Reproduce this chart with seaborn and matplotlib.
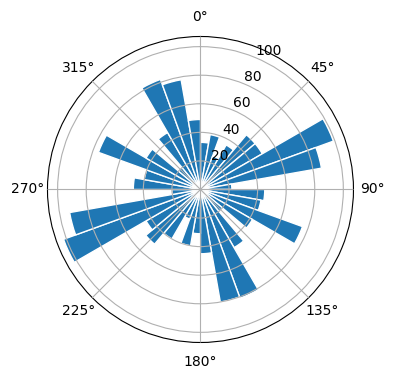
import numpy as np
import matplotlib
matplotlib.use("Agg")
import matplotlib.pyplot as plt
import seaborn as sns

# Direction bins (degrees, left edge of each 10-degree sector)
bin_start_deg = [0, 10, 20, 30, 40, 50, 60, 70, 80, 90, 100, 110,
                 120, 130, 140, 150, 160, 170, 180, 190, 200, 210, 220, 230,
                 240, 250, 260, 270, 280, 290, 300, 310, 320, 330, 340, 350]
bin_width_deg = 10
counts = [33, 39, 25, 36, 50, 50, 99, 86, 22, 45, 43, 76,
          42, 20, 47, 81, 80, 45, 31, 40, 22, 40, 50, 44,
          102, 93, 20, 47, 40, 76, 44, 20, 46, 82, 78, 49]

color = sns.color_palette()[0]

fig = plt.figure(figsize=(3.96, 3.80), dpi=100)
ax = fig.add_axes([0.1199, 0.0987, 0.7727, 0.8053], projection="polar")
ax.set_theta_zero_location("N")
ax.set_theta_direction(-1)

ax.bar(np.deg2rad(bin_start_deg), counts, width=np.deg2rad(bin_width_deg),
       align="edge", color=color, edgecolor="white", linewidth=1)
ax.set_axisbelow(False)
ax.grid(True)

fig.savefig("out.png", dpi=100)
